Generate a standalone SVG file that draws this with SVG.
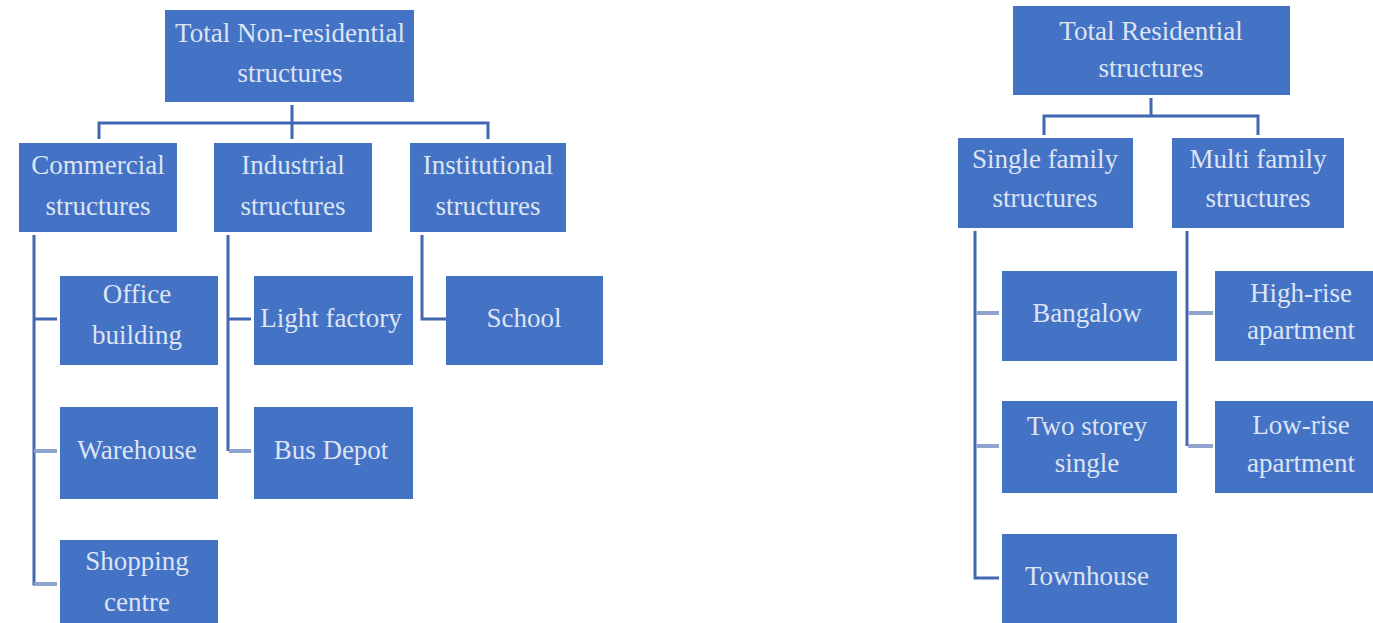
<svg xmlns="http://www.w3.org/2000/svg" width="1373" height="623" viewBox="0 0 1373 623">
<style>
.box{fill:#4472c4}
.t{font-family:"Liberation Serif","Times New Roman",serif;font-size:27px;fill:#dde4f4;text-anchor:middle}
.c{fill:none;stroke:#4267b2;stroke-width:3}
.cl{fill:none;stroke:#8fa4cf;stroke-width:4}
</style>
<rect width="1373" height="623" fill="#ffffff"/>
<g id="connectors">
<path class="c" d="M292 105V139M99 139V123H488V139"/>
<path class="c" d="M34 235V584H57M34 319H57"/>
<path class="cl" d="M34 451H57M34 584H57"/>
<path class="c" d="M228 235V451M228 319H251"/>
<path class="cl" d="M229 451H251"/>
<path class="c" d="M422 235V319H446"/>
<path class="c" d="M1151 98V116M1044 135V116H1258V135"/>
<path class="c" d="M975 231V578H999"/>
<path class="cl" d="M976 313H999M976 446H999"/>
<path class="c" d="M1187 231V446"/>
<path class="cl" d="M1188 313H1213M1188 446H1213"/>
</g>
<g id="n-total-nonres"><rect class="box" x="165" y="10" width="249" height="92"/><text class="t" x="290" y="42">Total Non-residential</text><text class="t" x="290" y="82">structures</text></g>
<g id="n-commercial"><rect class="box" x="19" y="143" width="158" height="89"/><text class="t" x="98" y="174">Commercial</text><text class="t" x="98" y="215">structures</text></g>
<g id="n-industrial"><rect class="box" x="214" y="143" width="158" height="89"/><text class="t" x="293" y="174">Industrial</text><text class="t" x="293" y="215">structures</text></g>
<g id="n-institutional"><rect class="box" x="410" y="143" width="156" height="89"/><text class="t" x="488" y="174">Institutional</text><text class="t" x="488" y="215">structures</text></g>
<g id="n-office"><rect class="box" x="60" y="276" width="158" height="89"/><text class="t" x="137" y="303">Office</text><text class="t" x="137" y="344">building</text></g>
<g id="n-warehouse"><rect class="box" x="60" y="407" width="158" height="92"/><text class="t" x="137" y="459">Warehouse</text></g>
<g id="n-shopping"><rect class="box" x="60" y="540" width="158" height="83"/><text class="t" x="137" y="570">Shopping</text><text class="t" x="137" y="611">centre</text></g>
<g id="n-light"><rect class="box" x="254" y="276" width="159" height="89"/><text class="t" x="331" y="327">Light factory</text></g>
<g id="n-bus"><rect class="box" x="254" y="407" width="159" height="92"/><text class="t" x="331" y="459">Bus Depot</text></g>
<g id="n-school"><rect class="box" x="446" y="276" width="157" height="89"/><text class="t" x="524" y="327">School</text></g>
<g id="n-total-res"><rect class="box" x="1013" y="6" width="277" height="89"/><text class="t" x="1151" y="40">Total Residential</text><text class="t" x="1151" y="77">structures</text></g>
<g id="n-single"><rect class="box" x="958" y="138" width="175" height="90"/><text class="t" x="1045" y="168">Single family</text><text class="t" x="1045" y="207">structures</text></g>
<g id="n-multi"><rect class="box" x="1172" y="138" width="172" height="90"/><text class="t" x="1258" y="168">Multi family</text><text class="t" x="1258" y="207">structures</text></g>
<g id="n-bangalow"><rect class="box" x="1002" y="271" width="175" height="90"/><text class="t" x="1087" y="322">Bangalow</text></g>
<g id="n-twostorey"><rect class="box" x="1002" y="401" width="175" height="92"/><text class="t" x="1087" y="435">Two storey</text><text class="t" x="1087" y="472">single</text></g>
<g id="n-townhouse"><rect class="box" x="1002" y="534" width="175" height="89"/><text class="t" x="1087" y="585">Townhouse</text></g>
<g id="n-highrise"><rect class="box" x="1215" y="271" width="158" height="90"/><text class="t" x="1301" y="302">High-rise</text><text class="t" x="1301" y="339">apartment</text></g>
<g id="n-lowrise"><rect class="box" x="1215" y="401" width="158" height="92"/><text class="t" x="1301" y="434">Low-rise</text><text class="t" x="1301" y="472">apartment</text></g>
</svg>
